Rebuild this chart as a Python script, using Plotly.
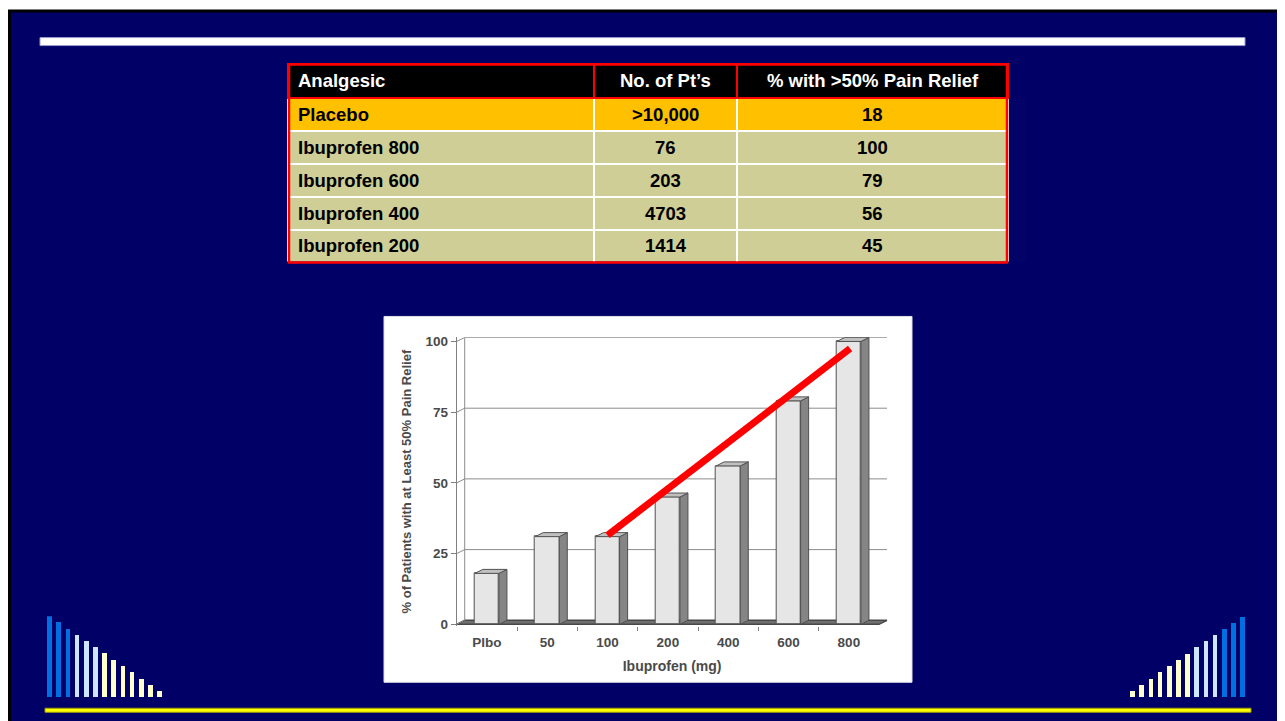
import plotly.graph_objects as go

# ---------------- data ----------------
categories = ["Plbo", "50", "100", "200", "400", "600", "800"]
pct_relief = [18, 31, 31, 45, 56, 79, 100]
y_ticks = [0, 25, 50, 75, 100]
trend_x = [2.0, 6.02]
trend_y = [31.5, 97.5]

table_headers = ["Analgesic", "No. of Pt’s", "% with >50% Pain Relief"]
table_analgesic = ["Placebo", "Ibuprofen 800", "Ibuprofen 600", "Ibuprofen 400", "Ibuprofen 200"]
table_n = [">10,000", "76", "203", "4703", "1414"]
table_pct = ["18", "100", "79", "56", "45"]

deco_left_heights = [81, 75, 68, 62, 56, 50, 44, 37, 31, 25, 18, 12, 6]
deco_right_heights = [6, 12, 18, 25, 31, 37, 43, 50, 56, 62, 68, 74, 80]

# ---------------- styles ----------------
W, H = 1285, 721
OFFX = 8                 # page offset (x)
OFFY, SY = 10.4, 0.988   # page offset / scale (y)
NAVY = "#000066"
BLUE = "#0070E0"
LBLUE = "#CCE6FF"
LYEL = "#FFFFCC"
deco_left_colors = [BLUE] * 3 + [LBLUE] * 3 + [LYEL] * 7
deco_right_colors = [LYEL] * 7 + [LBLUE] * 3 + [BLUE] * 3

FONT = "Liberation Sans, Arial, sans-serif"
GRAY_TXT = "#4A4A4A"

# table geometry (pixels)
TBL_X0, TBL_Y0 = 288, 63
COL_W = [306, 143, 271]
HEAD_H, ROW_H = 34, 33
TBL_W = sum(COL_W)
TBL_H = HEAD_H + ROW_H * len(table_analgesic)
TXT_PAD = 8
TFS = 18.5


def px(p):
    return (p - OFFX) / W


def py(p):
    return 1 - ((p - OFFY) / SY) / H


# main chart geometry (page pixels)
x_left_px, x_right_px = 456.7, 887.5
y_bot_px, y_top_px = 625.7, 336.8
x_range = [-0.5, 6.64]
y_range = [-0.6, 101.5]
unit_x = (x_right_px - x_left_px) / (x_range[1] - x_range[0])
unit_y = (y_bot_px - y_top_px) / (y_range[1] - y_range[0])
DX = 8 / unit_x     # 3-D depth in data units
DY = 4 / unit_y
BW = 0.4            # bar front width

fig = go.Figure()

# ---------------- table (grid + fills) ----------------
nrows = len(table_analgesic)
data_fill = ["#FFC000"] + ["#CFCE97"] * (nrows - 1)
fig.add_trace(go.Table(
    domain=dict(x=[px(TBL_X0), px(TBL_X0 + TBL_W)], y=[py(TBL_Y0 + TBL_H), py(TBL_Y0)]),
    columnwidth=COL_W,
    header=dict(
        values=["", "", ""],
        fill_color="#000000",
        line=dict(color="#FF0000", width=2),
        font=dict(family=FONT, size=12, color="white"),
        height=HEAD_H,
    ),
    cells=dict(
        values=[[""] * nrows] * 3,
        fill_color=[data_fill, data_fill, data_fill],
        line=dict(color="white", width=2),
        font=dict(family=FONT, size=12, color="black"),
        height=ROW_H,
    ),
    hoverinfo="skip",
))

# table text as annotations on an overlay axis in table pixel units
col_left = [sum(COL_W[:k]) for k in range(3)]
col_center = [col_left[k] + COL_W[k] / 2 for k in range(3)]
head_y = HEAD_H / 2
row_y = [HEAD_H + ROW_H * r + ROW_H / 2 for r in range(nrows)]

annotations = []


def cell_text(col, y, text, color):
    if col == 0:
        x, anchor = col_left[0] + TXT_PAD, "left"
    else:
        x, anchor = col_center[col], "center"
    annotations.append(dict(
        xref="x4", yref="y4", x=x, y=y, text=f"<b>{text}</b>", showarrow=False,
        xanchor=anchor, yanchor="middle",
        font=dict(family=FONT, size=TFS, color=color)))


for c, h in enumerate(table_headers):
    cell_text(c, head_y, h, "white")
for r in range(nrows):
    cell_text(0, row_y[r], table_analgesic[r], "black")
    cell_text(1, row_y[r], table_n[r], "black")
    cell_text(2, row_y[r], table_pct[r], "black")

# ---------------- 3-D bar chart ----------------
xs = list(range(len(categories)))
fig.add_trace(go.Bar(
    x=xs, y=pct_relief, width=BW,
    marker=dict(color="#E6E6E6", line=dict(color="#505050", width=1)),
    hoverinfo="skip", showlegend=False,
))

side_x, side_y, top_x, top_y = [], [], [], []
for i, v in zip(xs, pct_relief):
    xl, xr = i - BW / 2, i + BW / 2
    side_x += [xr, xr + DX, xr + DX, xr, xr, None]
    side_y += [0, DY, v + DY, v, 0, None]
    top_x += [xl, xl + DX, xr + DX, xr, xl, None]
    top_y += [v, v + DY, v + DY, v, v, None]

fig.add_trace(go.Scatter(x=side_x, y=side_y, mode="lines", fill="toself",
                         fillcolor="#858585", line=dict(color="#505050", width=1),
                         hoverinfo="skip", showlegend=False))
fig.add_trace(go.Scatter(x=top_x, y=top_y, mode="lines", fill="toself",
                         fillcolor="#C0C0C0", line=dict(color="#505050", width=1),
                         hoverinfo="skip", showlegend=False))

fig.add_trace(go.Scatter(x=trend_x, y=trend_y, mode="lines",
                         line=dict(color="#FF0000", width=7),
                         hoverinfo="skip", showlegend=False))

# ---------------- decorative bars ----------------
fig.add_trace(go.Bar(x=list(range(len(deco_left_heights))), y=deco_left_heights,
                     width=0.5, marker=dict(color=deco_left_colors, line=dict(width=0)),
                     xaxis="x2", yaxis="y2", hoverinfo="skip", showlegend=False))
fig.add_trace(go.Bar(x=list(range(len(deco_right_heights))), y=deco_right_heights,
                     width=0.5, marker=dict(color=deco_right_colors, line=dict(width=0)),
                     xaxis="x3", yaxis="y3", hoverinfo="skip", showlegend=False))
# invisible anchor trace for the table text axis
fig.add_trace(go.Scatter(x=[0, TBL_W], y=[0, TBL_H], mode="markers", marker=dict(opacity=0),
                         xaxis="x4", yaxis="y4", hoverinfo="skip", showlegend=False))

# ---------------- shapes ----------------
shapes = [
    # slide background with black frame
    dict(type="rect", xref="paper", yref="paper", x0=px(9.5), y0=py(H + 40), x1=px(W + 40), y1=py(10.5),
         fillcolor=NAVY, line=dict(color="#000000", width=3), layer="below"),
    # white title bar
    dict(type="rect", xref="paper", yref="paper", x0=px(40), y0=py(45), x1=px(1245), y1=py(37),
         fillcolor="white", line=dict(color="#9999CC", width=1), layer="below"),
    # yellow bottom line
    dict(type="rect", xref="paper", yref="paper", x0=px(45), y0=py(712), x1=px(1251), y1=py(708),
         fillcolor="#FFFF00", line=dict(color="#A0A000", width=1), layer="below"),
    # white chart panel
    dict(type="rect", xref="paper", yref="paper", x0=px(384), y0=py(682), x1=px(912), y1=py(316),
         fillcolor="white", line=dict(color="#E0E0E8", width=1), layer="below"),
    # table outer red frame
    dict(type="rect", xref="paper", yref="paper", x0=px(TBL_X0 + 1), y0=py(TBL_Y0 + TBL_H),
         x1=px(TBL_X0 + TBL_W - 1), y1=py(TBL_Y0 + 1),
         fillcolor="rgba(0,0,0,0)", line=dict(color="#FF0000", width=2.5), layer="above"),
]

# floor of the 3-D chart
n = len(categories)
floor_path = (f"M {-0.5} 0 L {-0.5 + DX} {DY} L {n - 0.5 + DX} {DY} "
              f"L {n - 0.5} 0 Z")
shapes.append(dict(type="path", xref="x", yref="y", path=floor_path,
                   fillcolor="#707070", line=dict(color="#484848", width=1.5), layer="below"))
# back wall (left wall + grid lines), derived from the y ticks
shapes.append(dict(type="line", xref="x", yref="y", x0=-0.5 + DX, y0=DY, x1=-0.5 + DX, y1=y_ticks[-1] + DY,
                   line=dict(color="#8C8C8C", width=1), layer="below"))
for v in y_ticks:
    shapes.append(dict(type="line", xref="x", yref="y", x0=-0.5, y0=v, x1=-0.5 + DX, y1=v + DY,
                       line=dict(color="#8C8C8C", width=1), layer="below"))
    if v > 0:
        shapes.append(dict(type="line", xref="x", yref="y", x0=-0.5 + DX, y0=v + DY,
                           x1=n - 0.5 + DX, y1=v + DY,
                           line=dict(color="#8C8C8C", width=1), layer="below"))

fig.update_layout(
    width=W, height=H,
    margin=dict(l=0, r=0, t=0, b=0),
    paper_bgcolor="white",
    plot_bgcolor="rgba(0,0,0,0)",
    showlegend=False,
    bargap=0,
    shapes=shapes,
    annotations=annotations,
    font=dict(family=FONT),
    xaxis=dict(
        domain=[px(x_left_px), px(x_right_px)], range=x_range,
        tickmode="array", tickvals=xs, ticktext=categories,
        ticks="outside", ticklen=4, tickcolor="rgba(0,0,0,0)",
        minor=dict(tickmode="array", tickvals=[i + 0.5 for i in xs[:-1]],
                   ticks="outside", ticklen=4, tickcolor="#808080"),
        tickfont=dict(family=FONT, size=13.5, color=GRAY_TXT, weight="bold"),
        showgrid=False, zeroline=False, showline=False, fixedrange=True,
        title=dict(text="Ibuprofen (mg)", font=dict(family=FONT, size=14, color=GRAY_TXT, weight="bold"),
                   standoff=12),
    ),
    yaxis=dict(
        domain=[py(y_bot_px), py(y_top_px)], range=y_range,
        tickmode="array", tickvals=y_ticks,
        ticks="outside", ticklen=5, tickcolor="#808080",
        tickfont=dict(family=FONT, size=13.5, color=GRAY_TXT, weight="bold"),
        showgrid=False, zeroline=False, showline=True, linecolor="#808080", linewidth=1,
        fixedrange=True,
        title=dict(text="% of Patients with at Least 50% Pain Relief",
                   font=dict(family=FONT, size=13, color=GRAY_TXT, weight="bold"), standoff=10),
    ),
    xaxis2=dict(domain=[px(45.4), px(164.6)], range=[-0.5, 12.5], visible=False, fixedrange=True, anchor="y2"),
    yaxis2=dict(domain=[py(697), py(616)], range=[0, 81], visible=False, fixedrange=True, anchor="x2"),
    xaxis3=dict(domain=[px(1128.4), px(1247.6)], range=[-0.5, 12.5], visible=False, fixedrange=True, anchor="y3"),
    yaxis3=dict(domain=[py(697), py(616)], range=[0, 81], visible=False, fixedrange=True, anchor="x3"),
    xaxis4=dict(domain=[px(TBL_X0), px(TBL_X0 + TBL_W)], range=[0, TBL_W], visible=False,
                fixedrange=True, anchor="y4"),
    yaxis4=dict(domain=[py(TBL_Y0 + TBL_H), py(TBL_Y0)], range=[TBL_H, 0], visible=False,
                fixedrange=True, anchor="x4"),
)

fig.write_html("out.html")
